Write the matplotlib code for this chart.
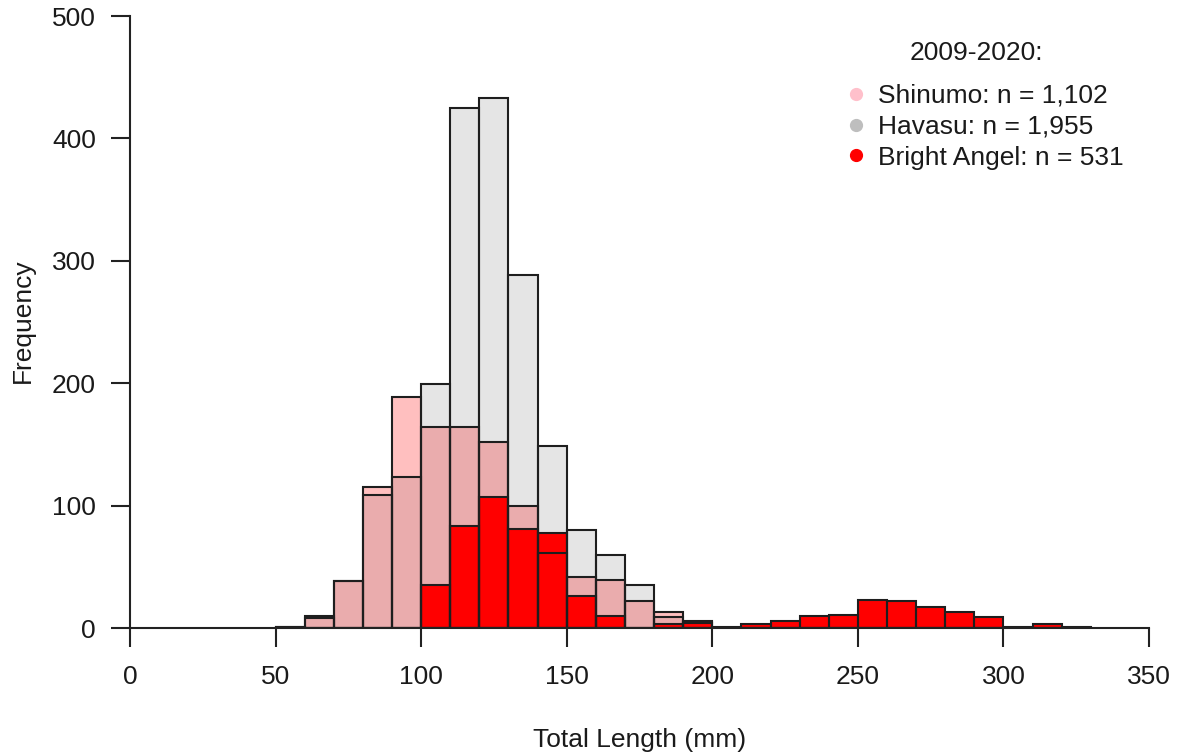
import matplotlib
matplotlib.use("Agg")
import matplotlib.pyplot as plt
from matplotlib.lines import Line2D
import numpy as np

plt.rcParams['font.family'] = ['Liberation Sans', 'DejaVu Sans']

# bin edges (mm), width 10
bin_edges = [50, 60, 70, 80, 90, 100, 110, 120, 130, 140, 150, 160, 170, 180,
             190, 200, 210, 220, 230, 240, 250, 260, 270, 280, 290, 300, 310, 320, 330]
shinumo = [1, 8, 38, 115, 189, 164, 164, 152, 100, 61, 42, 39, 22, 13,
           5, 0, 0, 0, 0, 0, 0, 0, 0, 0, 0, 0, 0, 0]
havasu = [1, 10, 38, 109, 123, 199, 425, 433, 288, 149, 80, 60, 35, 9,
          6, 0, 0, 0, 0, 0, 0, 0, 0, 0, 0, 0, 0, 0]
bright_angel = [0, 0, 0, 0, 0, 35, 83, 107, 81, 78, 26, 10, 0, 3,
                4, 1, 3, 6, 10, 11, 23, 22, 17, 13, 9, 1, 3, 1]
legend_title = "2009-2020:"
legend_labels = ["Shinumo: n = 1,102", "Havasu: n = 1,955", "Bright Angel: n = 531"]
x_ticks = [0, 50, 100, 150, 200, 250, 300, 350]
y_ticks = [0, 100, 200, 300, 400, 500]

W, H = 1177, 755
FS = 19
TXT = '#1a1a1a'
fig = plt.figure(figsize=(W / 100, H / 100), dpi=100)
ax = fig.add_axes([130 / W, 1 - 628 / H, (1149 - 130) / W, (628 - 16) / H])

lefts = np.array(bin_edges[:-1])
widths = np.diff(bin_edges)
overlap = np.minimum(shinumo, havasu)

gray_c = '#E5E5E5'
pink_c = '#FFBFBF'
rosy_c = '#EAACAD'
red_c = '#FF0000'
edge = '#1e1e1e'
lw = 1.5

# fills (overlapping translucent look)
ax.bar(lefts, havasu, width=widths, align='edge', color=gray_c, linewidth=0, zorder=1)
ax.bar(lefts, shinumo, width=widths, align='edge', color=pink_c, linewidth=0, zorder=2)
ax.bar(lefts, overlap, width=widths, align='edge', color=rosy_c, linewidth=0, zorder=3)
ax.bar(lefts, bright_angel, width=widths, align='edge', color=red_c, linewidth=0, zorder=4)
# outlines
for vals in (shinumo, havasu, bright_angel):
    ax.bar(lefts, vals, width=widths, align='edge', fill=False,
           edgecolor=edge, linewidth=lw, zorder=5)

ax.set_xlim(0, 350)
ax.set_ylim(0, 500)
ax.set_xticks(x_ticks)
ax.set_yticks(y_ticks)
for s in ('top', 'right'):
    ax.spines[s].set_visible(False)
for s in ('left', 'bottom'):
    ax.spines[s].set_linewidth(1.5)
    ax.spines[s].set_color('#222222')
    ax.spines[s].set_zorder(6)
ax.tick_params(axis='both', direction='out', length=14, width=1.5, color='#222222',
               labelsize=FS, labelcolor=TXT)
ax.tick_params(axis='x', pad=12.5)
ax.tick_params(axis='y', pad=10.5)

fig.text(640 / W, 1 - 747 / H, "Total Length (mm)", fontsize=FS, color=TXT,
         ha='center', va='baseline')
fig.text(22.5 / W, 1 - 321 / H, "Frequency", fontsize=FS, color=TXT,
         ha='center', va='center', rotation=90)

colors = ['#FFC0CB', '#BEBEBE', '#FF0000']
handles = [Line2D([0], [0], marker='o', linestyle='none', markersize=8.5,
                  markerfacecolor=c, markeredgecolor=c) for c in colors]
leg = fig.legend(handles, legend_labels, loc='upper left',
                 bbox_to_anchor=(842 / W, 1 - 84 / H), bbox_transform=fig.transFigure,
                 frameon=False, fontsize=FS, handletextpad=0.3, labelspacing=0.26,
                 borderpad=0.0, borderaxespad=0.0, handlelength=1.05)
for t in leg.get_texts():
    t.set_color(TXT)
fig.text(976 / W, 1 - 53 / H, legend_title, fontsize=FS, color=TXT,
         ha='center', va='center')

fig.savefig("out.png", dpi=100)
